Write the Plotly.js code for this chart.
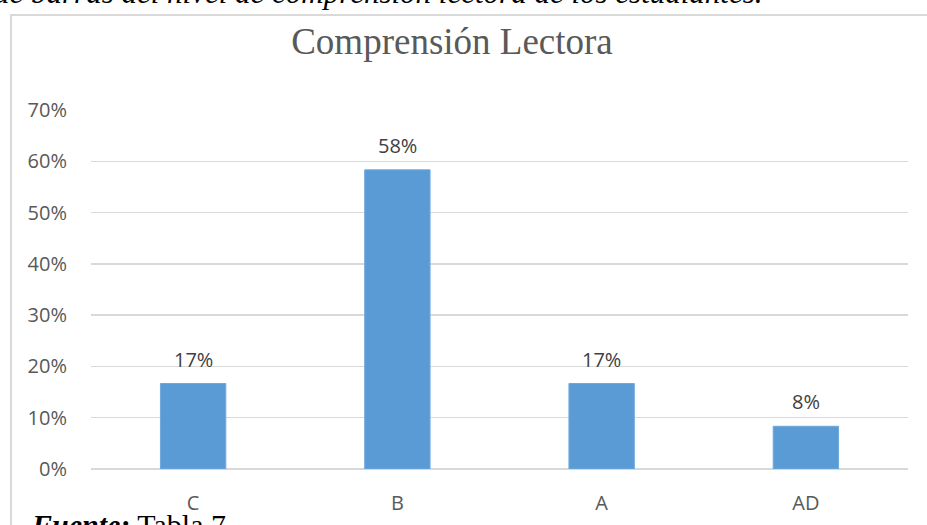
<!DOCTYPE html>
<html>
<head>
<meta charset="utf-8">
<script src="https://cdn.plot.ly/plotly-3.0.1.min.js"></script>
<style>html,body{margin:0;padding:0;background:#fff;}#chart{width:927px;height:525px;}</style>
</head>
<body>
<div id="chart"></div>
<script>
const categories = ["C", "B", "A", "AD"];
const values = [0.1667, 0.5833, 0.1667, 0.0833];
const valueLabels = ["17%", "58%", "17%", "8%"];
const yTickVals = [0, 0.1, 0.2, 0.3, 0.4, 0.5, 0.6, 0.7];
const yTickText = ["0%", "10%", "20%", "30%", "40%", "50%", "60%", "70%"];
const chartTitle = "Comprensión Lectora";
const captionTop = "de barras del nivel de comprensión lectora de los estudiantes.";
const sourceText = "<b><i>Fuente:</i></b> Tabla 7";

const W = 927, H = 525;
const L = 91, R = 19, T = 110, B = 56;
const pw = W - L - R, ph = H - T - B;
const px = x => (x - L) / pw;
const py = y => (H - B - y) / ph;

const trace = {
  type: "bar",
  x: categories,
  y: values,
  marker: {color: "#5b9bd5", line: {color: "#6fa8dc", width: 1}},
  hoverinfo: "none"
};

const labelAnnotations = categories.map((c, i) => ({
  x: c, y: values[i], xref: "x", yref: "y",
  text: valueLabels[i], showarrow: false,
  yanchor: "bottom", yshift: 9,
  font: {family: "Open Sans, sans-serif", size: 20, color: "#404040"}
}));

const layout = {
  width: W, height: H,
  margin: {l: L, r: R, t: T, b: B, pad: 0},
  paper_bgcolor: "#ffffff",
  plot_bgcolor: "#ffffff",
  showlegend: false,
  bargap: 0.68,
  title: {
    text: chartTitle,
    font: {family: "Liberation Serif, serif", size: 37, color: "#595959"},
    x: 452 / W, xanchor: "center", xref: "container",
    y: 1 - 41 / H, yanchor: "middle", yref: "container"
  },
  xaxis: {
    type: "category",
    showgrid: false, zeroline: false, showline: false,
    ticks: "outside", ticklen: 16, tickcolor: "rgba(0,0,0,0)",
    tickfont: {family: "Open Sans, sans-serif", size: 20, color: "#595959"}
  },
  yaxis: {
    range: [0, 0.7],
    tickvals: yTickVals, ticktext: yTickText,
    showgrid: true, gridcolor: "#d9d9d9", gridwidth: 1.3,
    zeroline: true, zerolinecolor: "#d9d9d9", zerolinewidth: 1.3,
    showline: false,
    ticks: "outside", ticklen: 19, tickcolor: "rgba(0,0,0,0)",
    tickfont: {family: "Open Sans, sans-serif", size: 20, color: "#595959"}
  },
  shapes: [{
    type: "rect", xref: "paper", yref: "paper",
    x0: px(11), x1: px(960), y0: py(560), y1: py(15),
    line: {color: "#d9d9d9", width: 2}, fillcolor: "rgba(0,0,0,0)", layer: "below"
  }],
  annotations: labelAnnotations.concat([
    {
      xref: "paper", yref: "paper", x: px(765), y: py(12),
      xanchor: "right", yanchor: "bottom", showarrow: false,
      text: "<i>" + captionTop + "</i>",
      font: {family: "Liberation Serif, serif", size: 31, color: "#000000"}
    },
    {
      xref: "paper", yref: "paper", x: px(29), y: py(506),
      xanchor: "left", yanchor: "top", showarrow: false,
      text: sourceText,
      font: {family: "Liberation Serif, serif", size: 30, color: "#000000"}
    }
  ])
};

Plotly.newPlot("chart", [trace], layout, {displayModeBar: false, staticPlot: true});
</script>
</body>
</html>
